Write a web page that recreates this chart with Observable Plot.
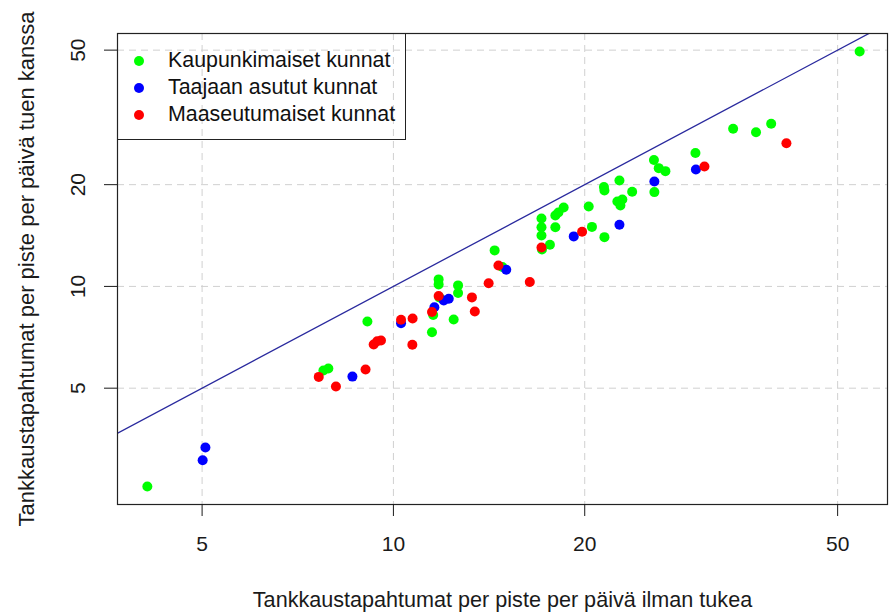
<!DOCTYPE html>
<html>
<head>
<meta charset="utf-8">
<script src="https://cdn.jsdelivr.net/npm/d3@7"></script>
<script src="https://cdn.jsdelivr.net/npm/@observablehq/plot@0.6"></script>
<style>
  html, body { margin: 0; padding: 0; background: #fff; }
  #wrap { position: relative; width: 891px; height: 613px; font-family: "Liberation Sans", Arial, sans-serif; }
  #legend { position: absolute; left: 117px; top: 33px; width: 287px; height: 105px; border: 1px solid #222; box-sizing: content-box; }
  .li { position: absolute; left: 0; height: 27px; display: flex; align-items: center; font-size: 21.4px; color: #111; white-space: nowrap; }
  .li .dot { position: absolute; left: 16px; width: 10px; height: 10px; border-radius: 50%; }
  .li span.t { position: absolute; left: 50px; }
</style>
</head>
<body>
<div id="wrap"></div>
<script>
// Series (x = without support, y = with support)
const greenX = [4.10, 7.76, 7.90, 9.10, 11.50, 11.55, 11.78, 11.78, 11.81, 12.44, 12.64, 12.64, 14.43, 14.84, 17.10, 17.10, 17.10, 17.13, 17.63, 17.98, 17.98, 18.18, 18.53, 20.29, 20.53, 21.44, 21.48, 21.48, 22.68, 22.51, 22.76, 22.92, 23.75, 25.70, 26.15, 26.79, 25.74, 29.87, 34.24, 37.20, 39.30, 54.15];
const greenY = [2.56, 5.64, 5.72, 7.87, 7.32, 8.23, 10.49, 10.14, 9.28, 7.98, 10.07, 9.56, 12.78, 11.42, 15.89, 14.97, 14.15, 12.86, 13.28, 14.97, 16.22, 16.55, 17.12, 17.24, 15.00, 19.69, 19.22, 13.99, 20.58, 17.84, 17.36, 18.08, 19.06, 23.67, 22.38, 21.93, 19.01, 24.82, 29.26, 28.59, 30.28, 49.56];
const blueX = [5.01, 5.06, 8.62, 10.28, 11.60, 12.00, 12.22, 15.05, 19.22, 22.68, 25.74, 29.92];
const blueY = [3.06, 3.34, 5.41, 7.78, 8.68, 9.09, 9.19, 11.20, 14.06, 15.22, 20.44, 22.18];
const redX = [7.63, 8.12, 9.04, 9.31, 9.43, 9.56, 10.28, 10.72, 10.71, 11.50, 11.78, 13.29, 13.43, 14.12, 14.63, 16.39, 17.10, 19.81, 30.86, 41.53];
const redY = [5.40, 5.06, 5.68, 6.73, 6.88, 6.92, 7.97, 8.04, 6.72, 8.40, 9.37, 9.28, 8.43, 10.22, 11.53, 10.31, 13.04, 14.51, 22.64, 26.53];

const groupNames = ["Kaupunkimaiset kunnat", "Taajaan asutut kunnat", "Maaseutumaiset kunnat"];
const groupColors = ["#00ff00", "#0000ff", "#ff0000"];

const xTicks = [5, 10, 20, 50];
const yTicks = [5, 10, 20, 50];
const xDomain = [3.68, 59.9];
const yDomain = [2.264, 56.0];
const identityLine = [1, 100]; // y = x reference line

const xLabel = "Tankkaustapahtumat per piste per päivä ilman tukea";
const yLabel = "Tankkaustapahtumat per piste per päivä tuen kanssa";

const rows = [
  ...greenX.map((x, i) => ({x, y: greenY[i], g: groupNames[0]})),
  ...blueX.map((x, i) => ({x, y: blueY[i], g: groupNames[1]})),
  ...redX.map((x, i) => ({x, y: redY[i], g: groupNames[2]}))
];

const chart = Plot.plot({
  width: 891,
  height: 613,
  marginLeft: 117,
  marginRight: 4,
  marginTop: 33,
  marginBottom: 109,
  style: {fontFamily: '"Liberation Sans", Arial, sans-serif', color: "#1a1a1a", background: "#fff"},
  x: {type: "log", domain: xDomain},
  y: {type: "log", domain: yDomain},
  color: {domain: groupNames, range: groupColors},
  marks: [
    Plot.gridX(xTicks, {stroke: "#d0d0d0", strokeOpacity: 1, strokeDasharray: "7,5"}),
    Plot.gridY(yTicks, {stroke: "#d0d0d0", strokeOpacity: 1, strokeDasharray: "7,5"}),
    Plot.line(identityLine, {x: d => d, y: d => d, stroke: "#2a2a9e", strokeWidth: 1.3, clip: true}),
    Plot.dot(rows, {x: "x", y: "y", fill: "g", r: 5}),
    Plot.frame({stroke: "#222", strokeWidth: 1.2}),
    Plot.axisX(xTicks, {tickSize: 12, tickPadding: 20, fontSize: 21, tickFormat: d => String(d), label: null}),
    Plot.axisY(yTicks, {tickSize: 13, tickPadding: 20, fontSize: 21, tickRotate: -90, tickFormat: d => String(d), label: null}),
    Plot.text([xLabel], {text: d => d, frameAnchor: "bottom", dy: 102, lineAnchor: "bottom", fontSize: 21.6, fill: "#1a1a1a"}),
    Plot.text([yLabel], {text: d => d, frameAnchor: "left", dx: -84, rotate: -90, textAnchor: "middle", lineAnchor: "bottom", fontSize: 22, fill: "#1a1a1a"})
  ]
});

const wrap = document.getElementById("wrap");
wrap.appendChild(chart);

const legend = document.createElement("div");
legend.id = "legend";
groupNames.forEach((name, i) => {
  const item = document.createElement("div");
  item.className = "li";
  item.style.top = (13 + i * 27) + "px";
  item.style.width = "100%";
  const dot = document.createElement("div");
  dot.className = "dot";
  dot.style.background = groupColors[i];
  const t = document.createElement("span");
  t.className = "t";
  t.textContent = name;
  item.appendChild(dot);
  item.appendChild(t);
  legend.appendChild(item);
});
wrap.appendChild(legend);
</script>
</body>
</html>
